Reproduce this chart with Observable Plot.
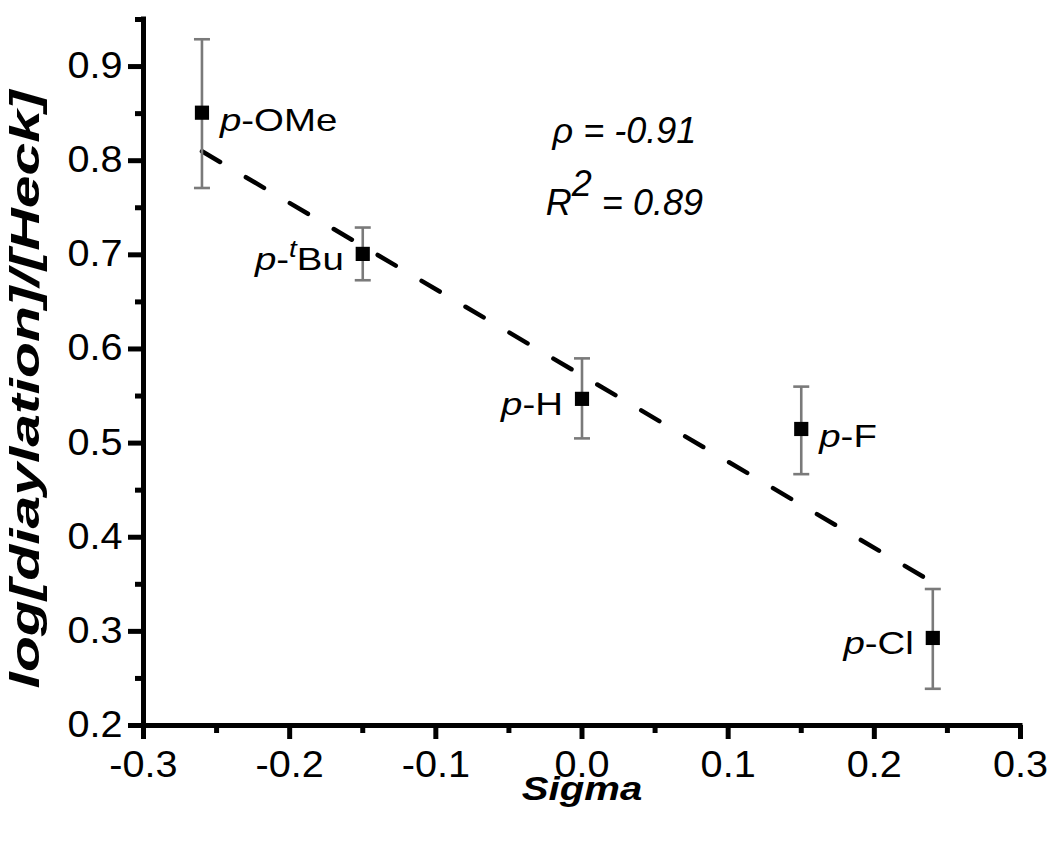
<!DOCTYPE html>
<html><head><meta charset="utf-8">
<script src="https://cdn.jsdelivr.net/npm/d3@7"></script>
<script src="https://cdn.jsdelivr.net/npm/@observablehq/plot@0.6"></script>
<style>body{margin:0;background:#fff} svg{display:block}</style>
</head><body><div id="chart"></div>
<script>
// ---- data ----
const sigma      = [-0.26, -0.15, 0.00, 0.15, 0.24];
const logRatio   = [0.851, 0.701, 0.547, 0.515, 0.293];
const errLow     = [0.771, 0.673, 0.505, 0.467, 0.239];
const errHigh    = [0.929, 0.729, 0.590, 0.560, 0.345];
const substituent = ["OMe", "tBu", "H", "F", "Cl"];
const superscript = ["", "t", "", "", ""];
const labelSide   = ["right", "left", "left", "right", "left"];
const fitSigma = [-0.26, 0.24];
const fitLog   = [0.81, 0.352];
const xTicks = [-0.3, -0.2, -0.1, 0.0, 0.1, 0.2, 0.3];
const xMinor = [-0.25, -0.15, -0.05, 0.05, 0.15, 0.25];
const yTicks = [0.2, 0.3, 0.4, 0.5, 0.6, 0.7, 0.8, 0.9];
const yMinor = [0.25, 0.35, 0.45, 0.55, 0.65, 0.75, 0.85, 0.95];
const statText = ["\u03C1 = -0.91", "R2 = 0.89"];
const statX = [0.029, 0.029];
const statY = [0.819, 0.742];
const xTitle = "Sigma";
const yTitle = "log[diaylation]/[Heck]";

const labelOf = (name, sup) => "p-" + sup + name.replace(sup, "");
const points = sigma.map((s, i) => ({
  sigma: s, value: logRatio[i], lo: errLow[i], hi: errHigh[i],
  name: substituent[i], sup: superscript[i], side: labelSide[i], label: labelOf(substituent[i], superscript[i])
}));
const fit = fitSigma.map((s, i) => ({sigma: s, value: fitLog[i]}));
const stats = statText.map((t, i) => ({text: t, x: statX[i], y: statY[i]}));

const FONT = "'Liberation Sans', Arial, Helvetica, sans-serif";
const capSymbol = {draw(ctx, size) { const w = Math.sqrt(size / Math.PI); ctx.moveTo(-w, 0); ctx.lineTo(w, 0); }};

const chart = Plot.plot({
  width: 1050, height: 841,
  marginLeft: 143, marginRight: 30, marginTop: 19, marginBottom: 116,
  style: {fontFamily: FONT, background: "white", color: "black", overflow: "visible"},
  x: {domain: [-0.3, 0.3]},
  y: {domain: [0.2, 0.95]},
  marks: [
    Plot.axisX({ticks: xMinor, tickSize: 8, strokeWidth: 5, tickFormat: () => "", label: null}),
    Plot.axisX({ticks: xTicks, tickSize: 14, tickPadding: 12, strokeWidth: 5, fontSize: 36, tickFormat: d => d.toFixed(1), label: null}),
    Plot.axisY({ticks: yMinor, tickSize: 8, strokeWidth: 5, tickFormat: () => "", label: null}),
    Plot.axisY({ticks: yTicks, tickSize: 15, tickPadding: 6, strokeWidth: 5, fontSize: 36, tickFormat: d => d.toFixed(1), label: null}),
    Plot.ruleY([0.2], {strokeWidth: 5, strokeLinecap: "square"}),
    Plot.ruleX([-0.3], {strokeWidth: 5, strokeLinecap: "square"}),
    Plot.line(fit, {x: "sigma", y: "value", stroke: "black", strokeWidth: 4.5, strokeDasharray: "21,30", strokeLinecap: "round"}),
    Plot.ruleX(points, {x: "sigma", y1: "lo", y2: "hi", stroke: "#7a7a7a", strokeWidth: 2.6}),
    Plot.dot(points, {x: "sigma", y: "lo", symbol: capSymbol, r: 8, stroke: "#7a7a7a", strokeWidth: 2.6, fill: "none"}),
    Plot.dot(points, {x: "sigma", y: "hi", symbol: capSymbol, r: 8, stroke: "#7a7a7a", strokeWidth: 2.6, fill: "none"}),
    Plot.dot(points, {x: "sigma", y: "value", symbol: "square", r: 8, fill: "black", stroke: "none"}),
    Plot.text(points.filter(d => d.side === "right"), {x: "sigma", y: "value", text: "label",
      textAnchor: "start", lineAnchor: "bottom", dx: 18, dy: 18, fontSize: 32}),
    Plot.text(points.filter(d => d.side === "left"), {x: "sigma", y: "value", text: "label",
      textAnchor: "end", lineAnchor: "bottom", dx: -19, dy: 16, fontSize: 32}),
    Plot.text(stats, {x: "x", y: "y", text: "text", textAnchor: "middle", lineAnchor: "bottom", fontSize: 36, fontStyle: "italic"}),
    Plot.text([xTitle], {frameAnchor: "bottom", textAnchor: "middle", lineAnchor: "bottom", dy: 74, fontSize: 34, fontWeight: "bold", fontStyle: "italic"}),
    Plot.text([yTitle], {frameAnchor: "left", textAnchor: "middle", rotate: -90, lineAnchor: "middle", dx: -117, dy: 17, fontSize: 40, fontWeight: "bold", fontStyle: "italic"})
  ]
});
document.getElementById("chart").appendChild(chart);

const NS = "http://www.w3.org/2000/svg";
const span = (txt, attrs) => { const s = document.createElementNS(NS, "tspan"); for (const k in attrs) s.setAttribute(k, attrs[k]); s.textContent = txt; return s; };
const labelSet = new Map(points.map(d => [d.label, d]));

// horizontal proportions of the reference lettering
const stretchFor = t => {
  const g = t.closest("g[aria-label]");
  const role = g ? g.getAttribute("aria-label") : "";
  const s = t.textContent;
  if (role === "x-axis tick label" || role === "y-axis tick label") return 1.1;
  if (labelSet.has(s)) return 1.2;
  if (s === xTitle) return 1.18;
  if (s === yTitle) return 1.47;
  return null;
};

const texts = Array.from(chart.querySelectorAll("text"));
const factors = texts.map(stretchFor);

// rich text: italic "p", superscripts
texts.forEach(t => {
  const s = t.textContent;
  if (labelSet.has(s)) {
    const d = labelSet.get(s);
    t.textContent = "";
    t.appendChild(span("p", {"font-style": "italic"}));
    t.appendChild(document.createTextNode("-"));
    if (d.sup) {
      t.appendChild(span(d.sup, {"font-style": "italic", "font-size": "0.72em", "baseline-shift": "super"}));
      t.appendChild(document.createTextNode(d.name.replace(d.sup, "")));
    } else {
      t.appendChild(document.createTextNode(d.name));
    }
  } else if (s === statText[1]) {
    t.textContent = "R";
    t.appendChild(span("2", {dy: "-0.55em"}));
    t.appendChild(span(s.slice(2), {dy: "0.55em"}));
  }
});

texts.forEach((t, i) => {
  const k = factors[i];
  if (k) {
    const len = t.getComputedTextLength();
    t.setAttribute("textLength", (len * k).toFixed(1));
    t.setAttribute("lengthAdjust", "spacingAndGlyphs");
  }
});
</script></body></html>
